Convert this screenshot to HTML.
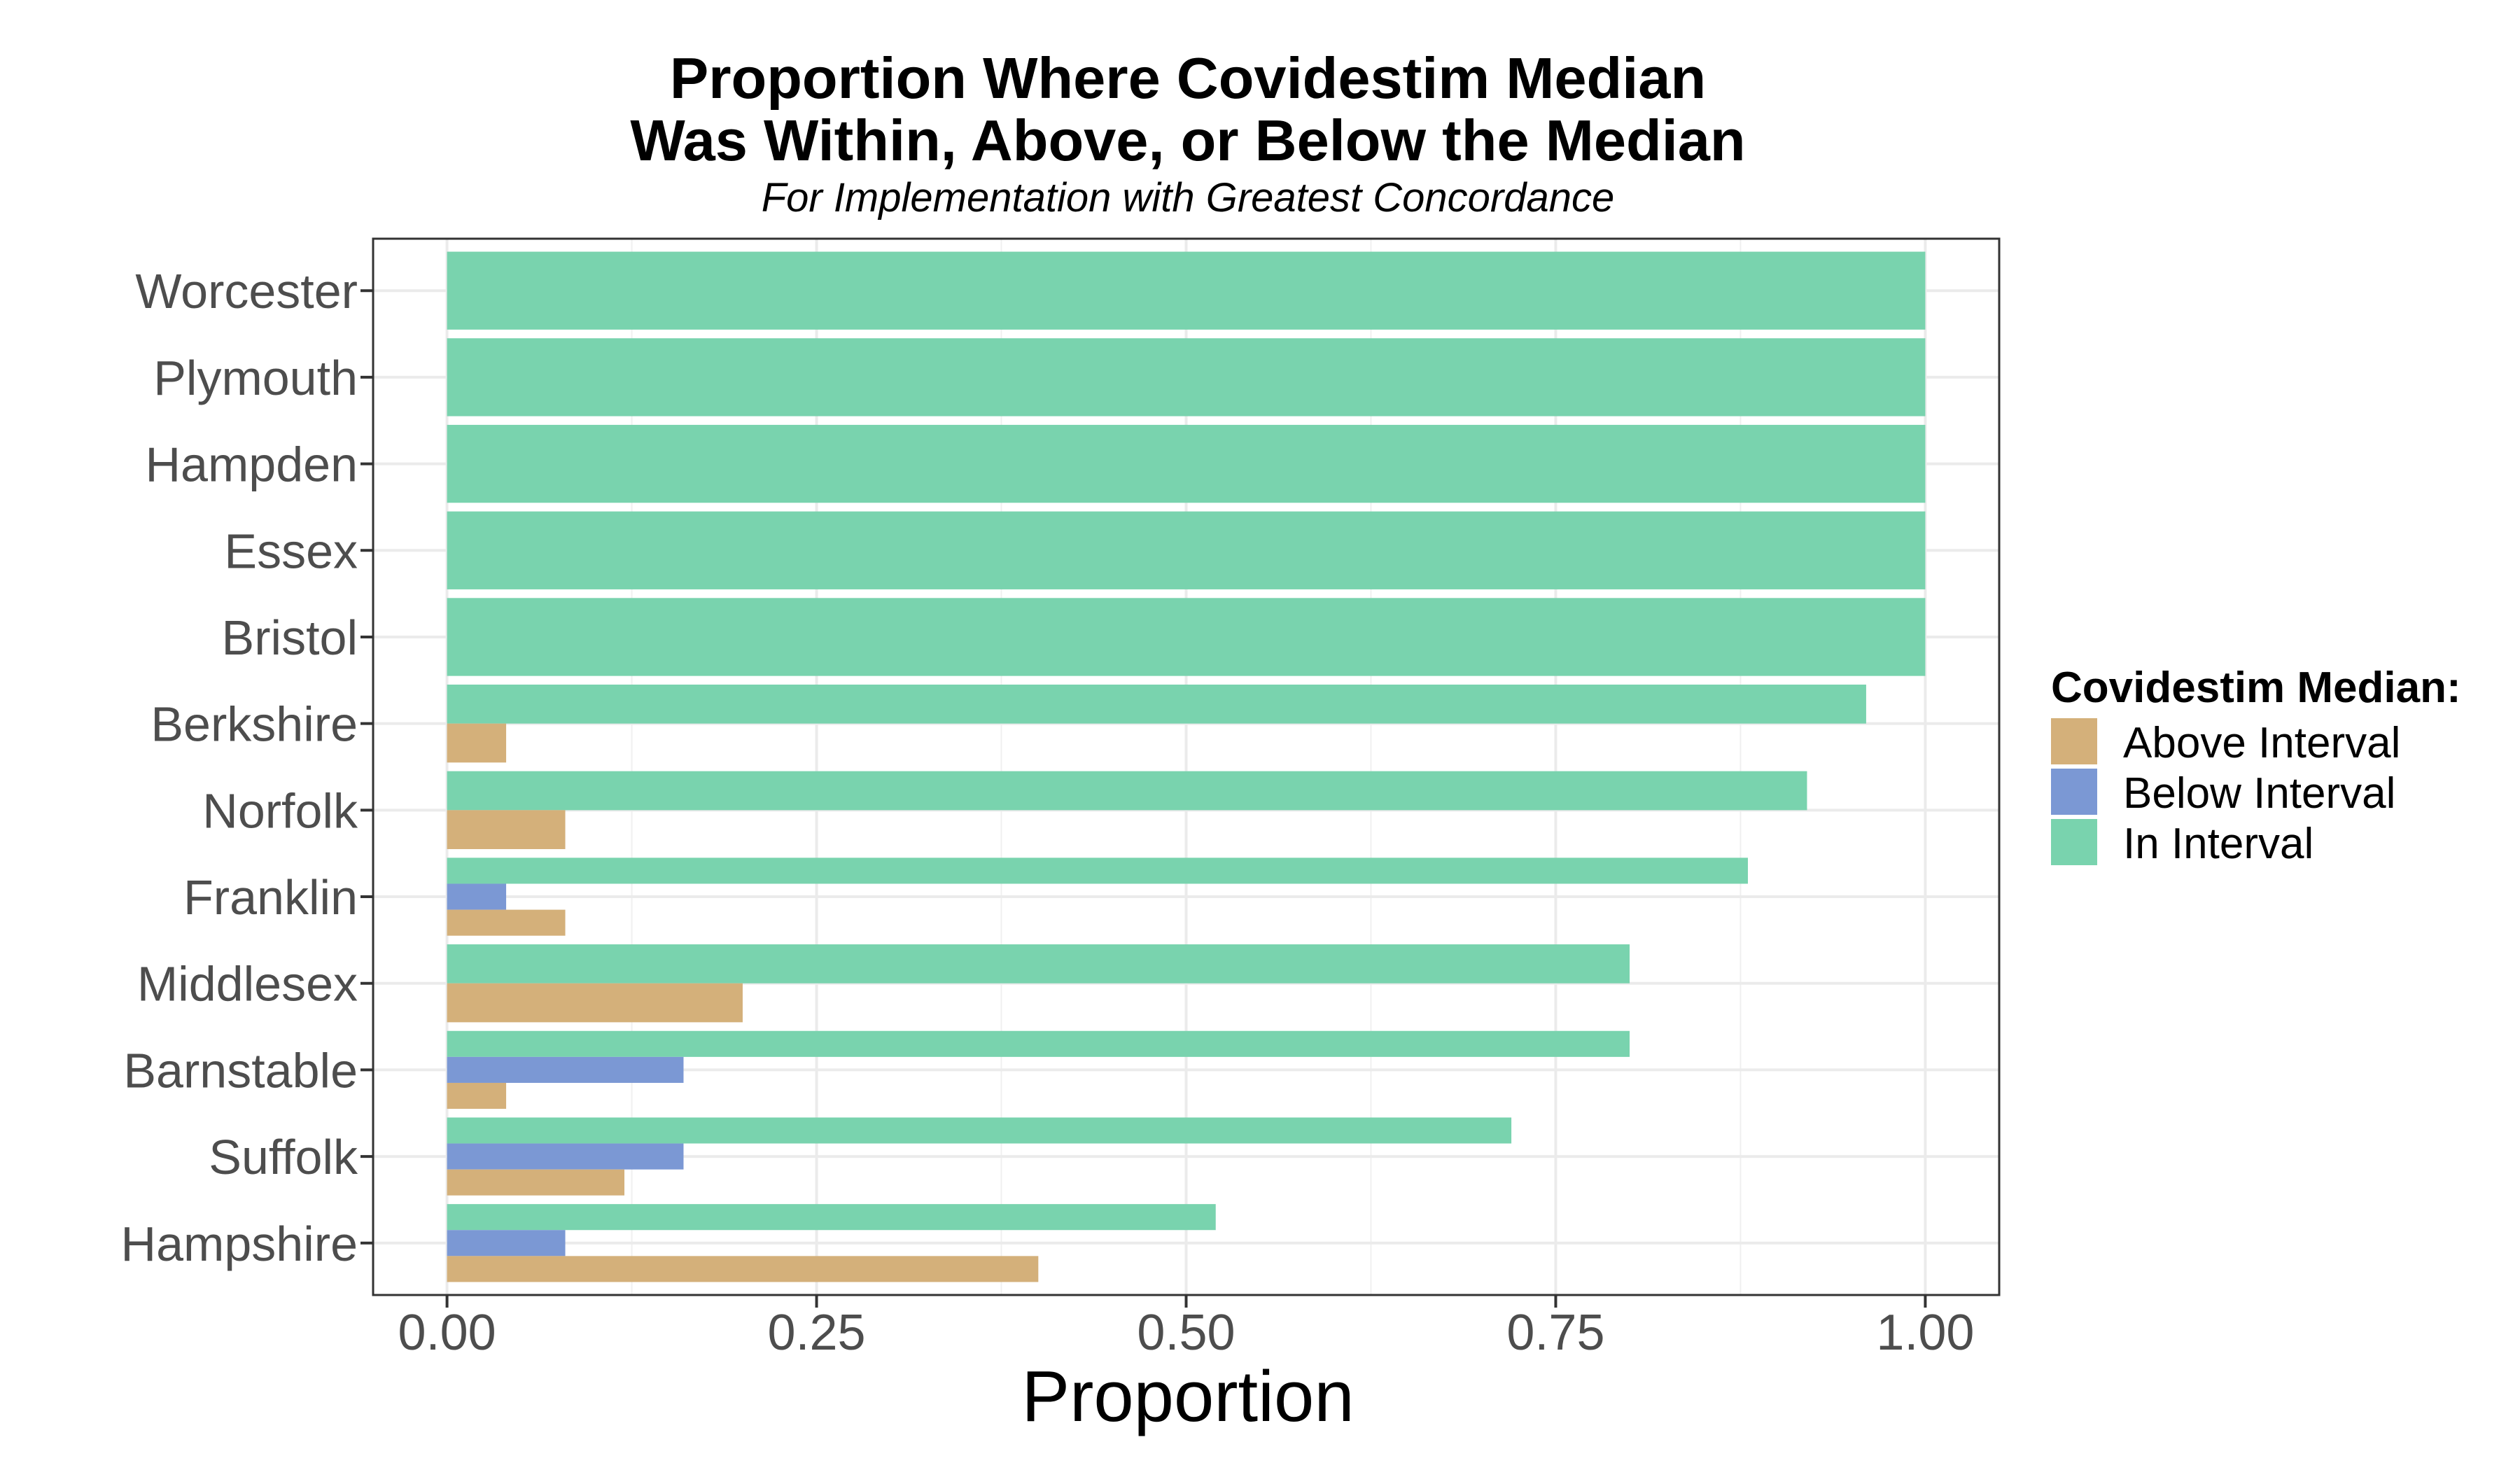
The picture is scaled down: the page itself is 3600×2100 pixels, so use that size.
<!DOCTYPE html>
<html><head><meta charset="utf-8"><style>
body{margin:0;background:#fff}
svg{display:block;font-family:"Liberation Sans",sans-serif}
</style></head><body>
<svg id="chart" width="3600" height="2100" viewBox="0 0 3600 2100" xmlns="http://www.w3.org/2000/svg">
<text x="1697" y="140" text-anchor="middle" font-size="83" font-weight="bold">Proportion Where Covidestim Median</text>
<text x="1697" y="229" text-anchor="middle" font-size="83" font-weight="bold">Was Within, Above, or Below the Median</text>
<text x="1697" y="302" text-anchor="middle" font-size="58" font-style="italic">For Implementation with Greatest Concordance</text>
<g id="grid"></g>
<g id="bars"></g>
<rect x="533" y="341" width="2323" height="1509" fill="none" stroke="#333" stroke-width="3"/>
<g id="axes"></g>
<text x="1697" y="2030" text-anchor="middle" font-size="103">Proportion</text>
<g>
<text x="2930" y="1003" font-size="62" font-weight="bold">Covidestim Median:</text>
<rect x="2930" y="1026" width="66" height="66" fill="#d4b07a"/>
<text x="3033" y="1082" font-size="62">Above Interval</text>
<rect x="2930" y="1098" width="66" height="66" fill="#7b98d4"/>
<text x="3033" y="1154" font-size="62">Below Interval</text>
<rect x="2930" y="1170" width="66" height="66" fill="#79d3ae"/>
<text x="3033" y="1226" font-size="62">In Interval</text>
</g>
</svg>
<script>
const counties = ["Worcester","Plymouth","Hampden","Essex","Bristol","Berkshire","Norfolk","Franklin","Middlesex","Barnstable","Suffolk","Hampshire"];
const inInterval = [1,1,1,1,1,0.96,0.92,0.88,0.80,0.80,0.72,0.52];
const belowInterval = [0,0,0,0,0,0,0,0.04,0,0.16,0.16,0.08];
const aboveInterval = [0,0,0,0,0,0.04,0.08,0.08,0.20,0.04,0.12,0.40];
const xTicks = [0,0.25,0.5,0.75,1];
const xTickLabels = ["0.00","0.25","0.50","0.75","1.00"];

const NS="http://www.w3.org/2000/svg";
const px0=533, px1=2856, py0=341, py1=1850;
const xmin=-0.05, xmax=1.05;
function xs(v){return px0+(v-xmin)/(xmax-xmin)*(px1-px0);}
const step=(py1-py0)/(counties.length+0.2);
function ys(i){return py0+0.6*step+i*step;}
function mk(tag,attrs,parent){const e=document.createElementNS(NS,tag);for(const k in attrs)e.setAttribute(k,attrs[k]);parent.appendChild(e);return e;}
const grid=document.getElementById('grid'), bars=document.getElementById('bars'), axes=document.getElementById('axes');
for(let i=0;i<xTicks.length-1;i++){
  const v=(xTicks[i]+xTicks[i+1])/2;
  const l=mk('line',{x1:xs(v),x2:xs(v),y1:py0,y2:py1,stroke:'#f0f0f0','stroke-width':2},grid);
  
  
}
xTicks.forEach((v,i)=>{
  const l=mk('line',{x1:xs(v),x2:xs(v),y1:py0,y2:py1,stroke:'#ebebeb','stroke-width':4},grid);
  
  
  const t=mk('line',{x1:xs(v),x2:xs(v),y1:py1,y2:py1+18,stroke:'#333','stroke-width':4},axes);
  
  
  const tx=mk('text',{x:xs(v),y:py1+78,'text-anchor':'middle','font-size':72,fill:'#4d4d4d'},axes);
  tx.textContent=xTickLabels[i];
  
  
});
counties.forEach((c,i)=>{
  const y=ys(i);
  const g=mk('line',{x1:px0,x2:px1,y1:y,y2:y,stroke:'#ebebeb','stroke-width':4},grid);
  
  
  const t=mk('line',{x1:px0-18,x2:px0,y1:y,y2:y,stroke:'#333','stroke-width':4},axes);
  
  
  const tx=mk('text',{x:px0-22,y:y+25,'text-anchor':'end','font-size':70,fill:'#4d4d4d'},axes);
  tx.textContent=c;
  
  
  const series=[[inInterval[i],'#79d3ae','in'],[belowInterval[i],'#7b98d4','below'],[aboveInterval[i],'#d4b07a','above']].filter(s=>s[0]>0);
  const total=0.9*step, h=total/series.length;
  series.forEach((s,j)=>{
    const r=mk('rect',{x:xs(0),y:y-total/2+j*h,width:xs(s[0])-xs(0),height:h,fill:s[1]},bars);
    
    
  });
});
</script>
</body></html>
